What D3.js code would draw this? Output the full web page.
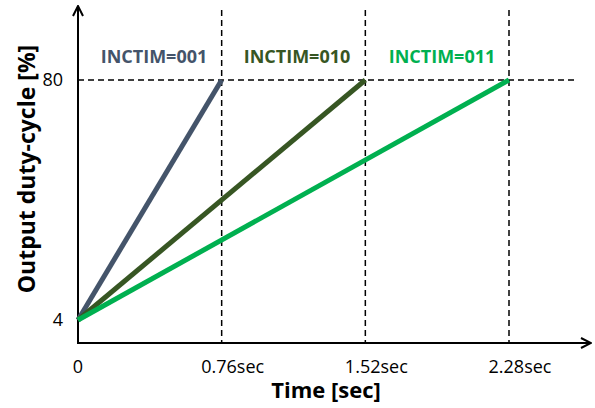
<!DOCTYPE html>
<html>
<head>
<meta charset="utf-8">
<script src="https://cdn.jsdelivr.net/npm/d3@7"></script>
<style>
  body { margin: 0; background: #fff; }
  text { font-family: "Open Sans", sans-serif; }
</style>
</head>
<body>
<div id="chart"></div>
<script>
const width = 595;
const height = 408;

// data
const seriesNames = ["INCTIM=001", "INCTIM=010", "INCTIM=011"];
const seriesColors = ["#44546A", "#375623", "#00B050"];
const startTime = [0, 0, 0];
const startDuty = [4, 4, 4];
const endTime = [0.76, 1.52, 2.28];
const endDuty = [80, 80, 80];
const xTicks = [0, 0.76, 1.52, 2.28];
const xTickLabels = ["0", "0.76sec", "1.52sec", "2.28sec"];
const yTicks = [4, 80];

const svg = d3.select("#chart")
    .append("svg")
    .attr("width", width)
    .attr("height", height);

const x = d3.scaleLinear().domain([0, 2.28]).range([78, 509]);
const y = d3.scaleLinear().domain([4, 80]).range([320, 80]);
const axisY = 343;

// arrow marker
svg.append("defs").append("marker")
    .attr("id", "arrow")
    .attr("viewBox", "0 0 12 12")
    .attr("refX", 11).attr("refY", 6)
    .attr("markerWidth", 12).attr("markerHeight", 12)
    .attr("markerUnits", "userSpaceOnUse")
    .attr("orient", "auto")
    .append("path")
    .attr("d", "M1,1 L11,6 L1,11")
    .attr("fill", "none")
    .attr("stroke", "#000")
    .attr("stroke-width", 2);

// dashed guides
svg.append("line")
    .attr("x1", x(0)).attr("x2", 577)
    .attr("y1", y(80)).attr("y2", y(80))
    .attr("stroke", "#000").attr("stroke-width", 1.5)
    .attr("stroke-dasharray", "6,4");

svg.selectAll(".vguide")
    .data(xTicks.slice(1))
    .enter().append("line")
    .attr("class", "vguide")
    .attr("x1", d => x(d)).attr("x2", d => x(d))
    .attr("y1", 10).attr("y2", axisY)
    .attr("stroke", "#000").attr("stroke-width", 1.5)
    .attr("stroke-dasharray", "6,4");

// axes
svg.append("line")
    .attr("x1", x(0)).attr("x2", 591)
    .attr("y1", axisY).attr("y2", axisY)
    .attr("stroke", "#000").attr("stroke-width", 2)
    .attr("marker-end", "url(#arrow)");

svg.append("line")
    .attr("x1", x(0)).attr("x2", x(0))
    .attr("y1", axisY + 1).attr("y2", 6)
    .attr("stroke", "#000").attr("stroke-width", 2)
    .attr("marker-end", "url(#arrow)");

// series lines
const lineData = seriesNames.map((name, i) => ({
    name: name,
    color: seriesColors[i],
    points: [[startTime[i], startDuty[i]], [endTime[i], endDuty[i]]]
}));

const line = d3.line().x(d => x(d[0])).y(d => y(d[1]));

svg.selectAll(".series")
    .data(lineData)
    .enter().append("path")
    .attr("class", "series")
    .attr("d", d => line(d.points))
    .attr("fill", "none")
    .attr("stroke", d => d.color)
    .attr("stroke-width", 5);

// series labels, centered over each segment's column
const labelX = [154, 297, 442];
svg.selectAll(".slabel")
    .data(lineData)
    .enter().append("text")
    .attr("class", "slabel")
    .attr("x", (d, i) => labelX[i])
    .attr("y", 63)
    .attr("text-anchor", "middle")
    .attr("font-family", "Lato, sans-serif")
    .attr("font-size", 18)
    .attr("font-weight", "bold")
    .attr("fill", d => d.color)
    .text(d => d.name);

// tick labels
svg.selectAll(".ytick")
    .data(yTicks)
    .enter().append("text")
    .attr("class", "ytick")
    .attr("x", 63)
    .attr("y", d => y(d))
    .attr("dy", "0.35em")
    .attr("text-anchor", "end")
    .attr("font-size", 18)
    .text(d => d);

svg.selectAll(".xtick")
    .data(xTicks)
    .enter().append("text")
    .attr("class", "xtick")
    .attr("x", (d, i) => x(d) + (i === 0 ? 0 : 11))
    .attr("y", 373)
    .attr("text-anchor", "middle")
    .attr("font-size", 18)
    .text((d, i) => xTickLabels[i]);

// axis titles
svg.append("text")
    .attr("x", 326)
    .attr("y", 398)
    .attr("text-anchor", "middle")
    .attr("font-size", 22)
    .attr("font-weight", "bold")
    .text("Time [sec]");

svg.append("text")
    .attr("transform", "translate(35,169) rotate(-90)")
    .attr("text-anchor", "middle")
    .attr("font-size", 23)
    .attr("font-weight", "bold")
    .text("Output duty-cycle [%]");
</script>
</body>
</html>
